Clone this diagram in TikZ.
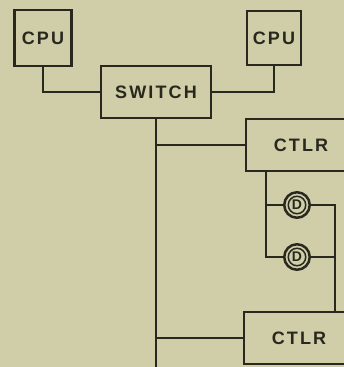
\documentclass[tikz,border=0pt]{standalone}
\usepackage{fontspec}
\usepackage{tikz}
\usetikzlibrary{positioning}
\newfontfamily\boxfont[LetterSpace=12]{Liberation Sans}
\definecolor{paper}{RGB}{207,206,168}
\definecolor{ink}{RGB}{40,40,30}

\tikzset{
    unit/.style={draw=ink, line width=2.8pt, fill=paper, text=ink, inner sep=0pt,
        font=\boxfont\fontsize{18}{18}\selectfont\bfseries},
    disk/.style={circle, draw=ink, line width=2.5pt, fill=paper, minimum size=25.5pt,
        inner sep=0pt, text=ink, font=\fontspec{Liberation Sans}\fontsize{14}{14}\selectfont\bfseries,
        path picture={\draw[ink, line width=1.5pt] (path picture bounding box.center) circle (8.75pt);}},
    wire/.style={draw=ink, line width=2pt}
}

\begin{document}
\begin{tikzpicture}[x=1pt, y=-1pt]
    \fill[paper] (0,0) rectangle (344,367);
    \useasboundingbox (0,0) rectangle (344,367);
    \clip (0,0) rectangle (344,367);

    % processors and switch
    \node[unit, minimum width=57pt, minimum height=56pt] (cpuA) at (43,38) {CPU};
    \node[unit, minimum width=54pt, minimum height=54pt] (cpuB) at (274,38) {CPU};
    \node[unit, minimum width=110pt, minimum height=52pt] (switch) at (156,92) {SWITCH};

    % controllers (cut off at the right)
    \node[unit, minimum width=110pt, minimum height=52pt] (ctlrA) at (301,145) {CTLR};
    \node[unit, minimum width=110pt, minimum height=52pt] (ctlrB) at (299,338) {CTLR};

    % disks
    \node[disk] (diskA) at (297,205) {D};
    \node[disk] (diskB) at (297,257) {D};
    \coordinate (tap) at (266,257);
    \coordinate (rail) at (335,205);
    \coordinate (busEnd) at (156,367);

    % connections
    \draw[wire] (cpuA.south) |- (switch.west);
    \draw[wire] (cpuB.south) |- (switch.east);
    \draw[wire] (switch.south) -- (busEnd);
    \draw[wire] (ctlrA.west) -- (ctlrA.west -| switch.south);
    \draw[wire] (ctlrB.west) -- (ctlrB.west -| switch.south);
    \draw[wire] (ctlrA.south -| tap) |- (diskB.west);
    \draw[wire] (diskA.west) -- (diskA.west -| tap);
    \draw[wire] (diskA.east) -| (ctlrB.north -| rail);
    \draw[wire] (diskB.east) -- (diskB.east -| rail);
\end{tikzpicture}
\end{document}
